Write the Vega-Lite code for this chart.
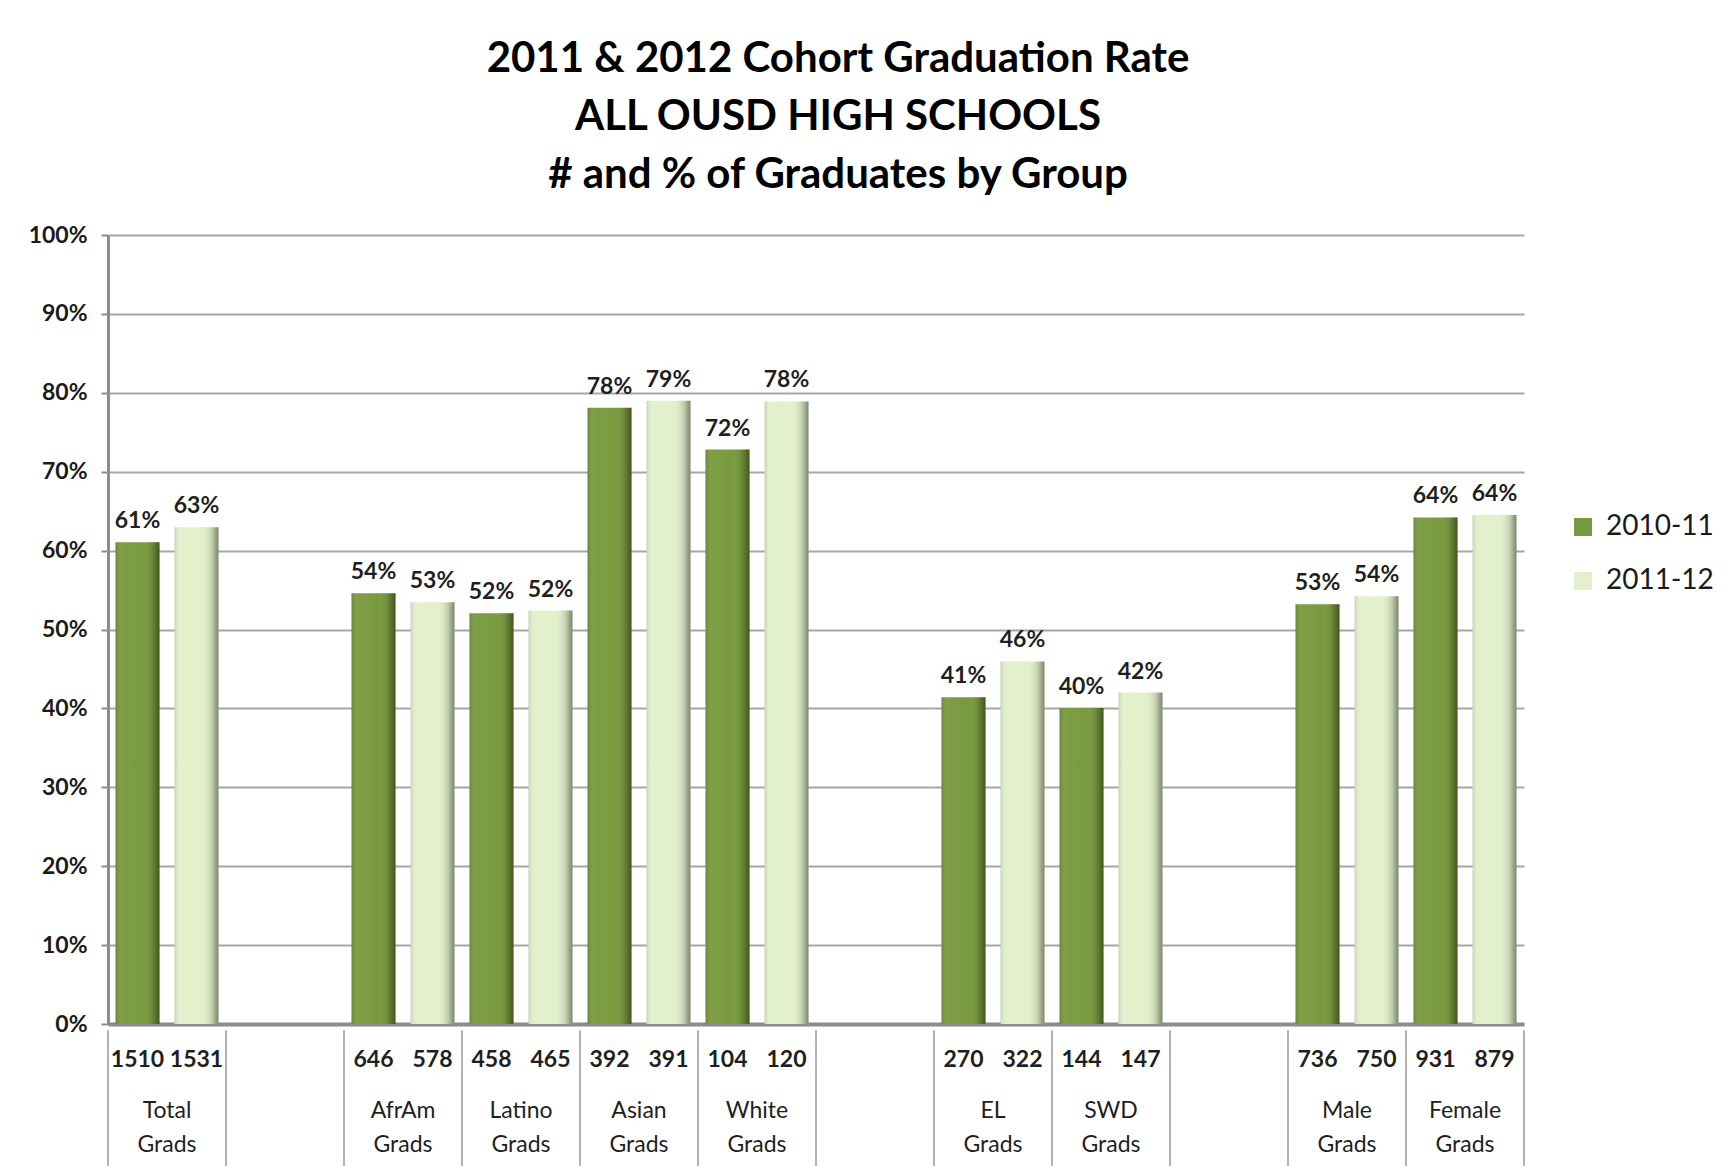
{
  "$schema": "https://vega.github.io/schema/vega-lite/v6.json",
  "autosize": {"type": "none"},
  "width": 1416,
  "height": 789,
  "padding": {"left": 108, "top": 235, "right": 209, "bottom": 142},
  "background": "white",
  "title": {
    "text": ["2011 & 2012 Cohort Graduation Rate", "ALL OUSD HIGH SCHOOLS", "# and % of Graduates by Group"],
    "font": "Lato", "fontSize": 42, "fontWeight": "bold", "color": "#000000",
    "lineHeight": 58, "anchor": "middle", "frame": "group", "dx": 22, "dy": 58, "offset": 43, "baseline": "bottom"
  },
  "datasets": {
    "bars": [
      {"slot": "Total Grads", "year": "2010-11", "rate": 0.6105, "label": "61%", "count": 1510},
      {"slot": "Total Grads", "year": "2011-12", "rate": 0.6295, "label": "63%", "count": 1531},
      {"slot": "AfrAm Grads", "year": "2010-11", "rate": 0.546, "label": "54%", "count": 646},
      {"slot": "AfrAm Grads", "year": "2011-12", "rate": 0.5345, "label": "53%", "count": 578},
      {"slot": "Latino Grads", "year": "2010-11", "rate": 0.5206, "label": "52%", "count": 458},
      {"slot": "Latino Grads", "year": "2011-12", "rate": 0.524, "label": "52%", "count": 465},
      {"slot": "Asian Grads", "year": "2010-11", "rate": 0.781, "label": "78%", "count": 392},
      {"slot": "Asian Grads", "year": "2011-12", "rate": 0.79, "label": "79%", "count": 391},
      {"slot": "White Grads", "year": "2010-11", "rate": 0.728, "label": "72%", "count": 104},
      {"slot": "White Grads", "year": "2011-12", "rate": 0.789, "label": "78%", "count": 120},
      {"slot": "EL Grads", "year": "2010-11", "rate": 0.414, "label": "41%", "count": 270},
      {"slot": "EL Grads", "year": "2011-12", "rate": 0.4595, "label": "46%", "count": 322},
      {"slot": "SWD Grads", "year": "2010-11", "rate": 0.4004, "label": "40%", "count": 144},
      {"slot": "SWD Grads", "year": "2011-12", "rate": 0.42, "label": "42%", "count": 147},
      {"slot": "Male Grads", "year": "2010-11", "rate": 0.532, "label": "53%", "count": 736},
      {"slot": "Male Grads", "year": "2011-12", "rate": 0.542, "label": "54%", "count": 750},
      {"slot": "Female Grads", "year": "2010-11", "rate": 0.642, "label": "64%", "count": 931},
      {"slot": "Female Grads", "year": "2011-12", "rate": 0.645, "label": "64%", "count": 879}
    ],
    "slots": [
      {"slot": "Total Grads", "name": "Total Grads", "last": false},
      {"slot": "gap1", "name": "", "last": false},
      {"slot": "AfrAm Grads", "name": "AfrAm Grads", "last": false},
      {"slot": "Latino Grads", "name": "Latino Grads", "last": false},
      {"slot": "Asian Grads", "name": "Asian Grads", "last": false},
      {"slot": "White Grads", "name": "White Grads", "last": false},
      {"slot": "gap2", "name": "", "last": false},
      {"slot": "EL Grads", "name": "EL Grads", "last": false},
      {"slot": "SWD Grads", "name": "SWD Grads", "last": false},
      {"slot": "gap3", "name": "", "last": false},
      {"slot": "Male Grads", "name": "Male Grads", "last": false},
      {"slot": "Female Grads", "name": "Female Grads", "last": true}
    ]
  },
  "config": {
    "view": {"stroke": null},
    "font": "Lato"
  },
  "layer": [
    {
      "data": {"name": "bars"},
      "mark": {"type": "bar"},
      "encoding": {
        "x": {"field": "slot", "type": "nominal", "sort": null,
          "scale": {"domain": ["Total Grads", "gap1", "AfrAm Grads", "Latino Grads", "Asian Grads", "White Grads", "gap2", "EL Grads", "SWD Grads", "gap3", "Male Grads", "Female Grads"], "paddingInner": 0, "paddingOuter": 0},
          "axis": {"labels": false, "ticks": false, "title": null, "domainColor": "#8c8c8c", "domainWidth": 4, "grid": false}},
        "xOffset": {"field": "year", "type": "nominal", "scale": {"paddingInner": 0.254, "paddingOuter": 0.127}},
        "y": {"field": "rate", "type": "quantitative", "scale": {"domain": [0, 1], "nice": false},
          "axis": {"title": null, "format": ".0%", "values": [0, 0.1, 0.2, 0.3, 0.4, 0.5, 0.6, 0.7, 0.8, 0.9, 1],
            "labelFont": "Lato", "labelFontSize": 23, "labelFontWeight": "bold", "labelColor": "#1a1a1a",
            "labelPadding": 14, "tickSize": 7, "tickColor": "#8c8c8c", "tickWidth": 2,
            "domainColor": "#8c8c8c", "domainWidth": 3, "gridColor": "#a6a6a6", "gridWidth": 2}},
        "color": {"field": "year", "type": "nominal",
          "scale": {"domain": ["2010-11", "2011-12"], "range": ["#789A3E", "#E3F0CB"]},
          "legend": {"title": null, "orient": "none", "legendX": 1461, "legendY": 278,
            "symbolType": "square", "symbolSize": 324, "symbolStrokeWidth": 0,
            "labelFont": "Lato", "labelFontSize": 28, "labelColor": "#1a1a1a", "labelOffset": 9, "rowPadding": 26}}
      }
    },
    {
      "data": {"name": "bars"},
      "mark": {"type": "bar", "fill": {"gradient": "linear", "x1": 0, "x2": 1, "y1": 0, "y2": 0,
        "stops": [
          {"offset": 0, "color": "rgba(0,0,0,0.12)"},
          {"offset": 0.12, "color": "rgba(255,255,255,0.05)"},
          {"offset": 0.6, "color": "rgba(255,255,255,0.0)"},
          {"offset": 0.85, "color": "rgba(0,0,0,0.15)"},
          {"offset": 1, "color": "rgba(0,0,0,0.45)"}
        ]}},
      "encoding": {
        "x": {"field": "slot", "type": "nominal"},
        "xOffset": {"field": "year", "type": "nominal"},
        "y": {"field": "rate", "type": "quantitative", "scale": {"domain": [0, 1], "nice": false}}
      }
    },
    {
      "data": {"name": "bars"},
      "mark": {"type": "text", "baseline": "alphabetic", "dy": -14, "font": "Lato", "fontSize": 23, "fontWeight": "bold", "color": "#1f1f1f"},
      "encoding": {
        "x": {"field": "slot", "type": "nominal"},
        "xOffset": {"field": "year", "type": "nominal"},
        "y": {"field": "rate", "type": "quantitative", "scale": {"domain": [0, 1], "nice": false}},
        "text": {"field": "label"}
      }
    },
    {
      "data": {"name": "bars"},
      "mark": {"type": "text", "baseline": "middle", "font": "Lato", "fontSize": 23, "fontWeight": "bold", "color": "#1f1f1f"},
      "encoding": {
        "x": {"field": "slot", "type": "nominal"},
        "xOffset": {"field": "year", "type": "nominal"},
        "y": {"datum": -0.046, "type": "quantitative", "scale": {"domain": [0, 1], "nice": false}},
        "text": {"field": "count"}
      }
    },
    {
      "data": {"name": "slots"},
      "mark": {"type": "text", "baseline": "middle", "lineBreak": " ", "lineHeight": 34, "font": "Lato", "fontSize": 23, "color": "#1f1f1f"},
      "encoding": {
        "x": {"field": "slot", "type": "nominal"},
        "y": {"datum": -0.11, "type": "quantitative", "scale": {"domain": [0, 1], "nice": false}},
        "text": {"field": "name"}
      }
    },
    {
      "data": {"name": "slots"},
      "mark": {"type": "rule", "color": "#b3b3b3", "strokeWidth": 2},
      "encoding": {
        "x": {"field": "slot", "type": "nominal", "bandPosition": 0},
        "y": {"datum": -0.008, "type": "quantitative", "scale": {"domain": [0, 1], "nice": false}},
        "y2": {"datum": -0.2}
      }
    },
    {
      "data": {"name": "slots"},
      "transform": [{"filter": "datum.last"}],
      "mark": {"type": "rule", "color": "#b3b3b3", "strokeWidth": 2},
      "encoding": {
        "x": {"field": "slot", "type": "nominal", "bandPosition": 1},
        "y": {"datum": -0.008, "type": "quantitative", "scale": {"domain": [0, 1], "nice": false}},
        "y2": {"datum": -0.2}
      }
    }
  ]
}
